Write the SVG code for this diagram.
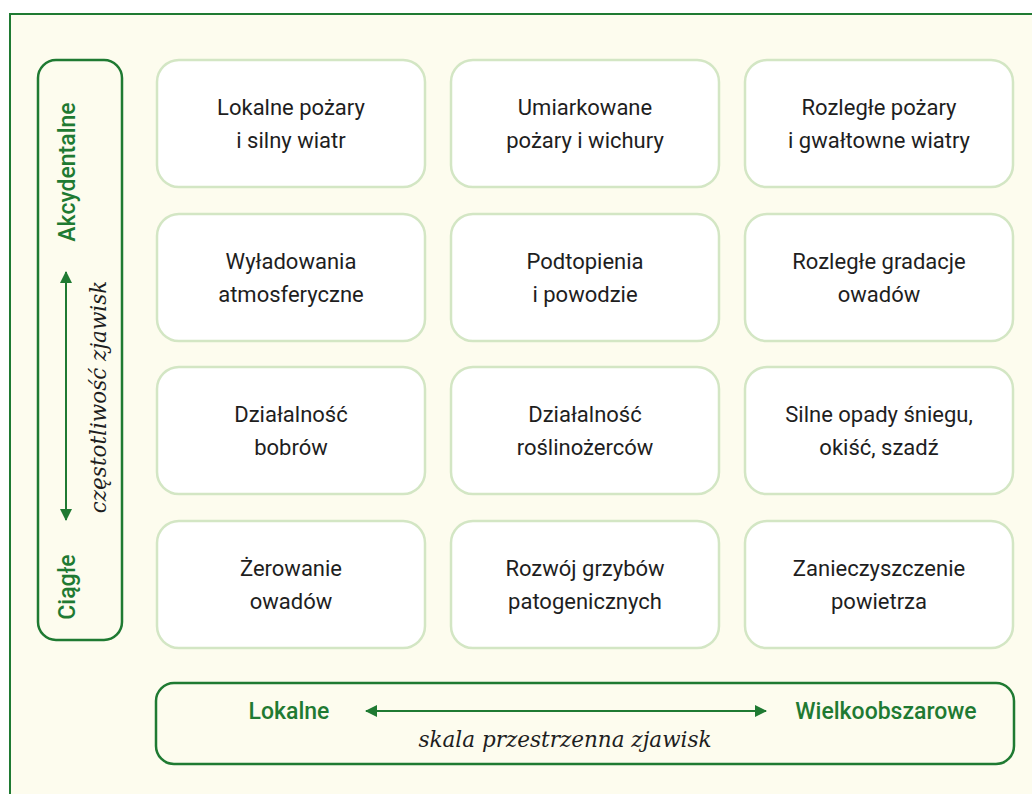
<svg xmlns="http://www.w3.org/2000/svg" width="1032" height="794" viewBox="0 0 1032 794">
<defs>
<style>
.box{fill:#ffffff;stroke:#d3e6c4;stroke-width:2.5}
.frame{fill:none;stroke:#1f7a32;stroke-width:2.5}
.t{font-family:Roboto,"Liberation Sans",sans-serif;font-size:22px;fill:#1e1e1e;text-anchor:middle}
.g{font-family:Roboto,"Liberation Sans",sans-serif;font-size:23px;font-weight:500;fill:#1f7a32;text-anchor:middle}
.i{font-family:"DejaVu Serif","Liberation Serif",serif;font-style:italic;font-size:21.5px;fill:#1e1e1e;text-anchor:middle}
.ln{stroke:#1f7a32;stroke-width:2;fill:none}
</style>
<marker id="ah" viewBox="0 0 12 12" refX="11" refY="6" markerWidth="12" markerHeight="12" markerUnits="userSpaceOnUse" orient="auto-start-reverse">
<path d="M0,0 L12,6 L0,12 Z" fill="#1f7a32"/>
</marker>
</defs>
<rect x="0" y="0" width="1032" height="794" fill="#ffffff"/>
<rect id="background" x="10" y="14" width="1040" height="800" fill="#fdfcee" stroke="#1f7a32" stroke-width="2"/>

<g id="axis-vertical">
<rect class="frame" x="38" y="60" width="84" height="580" rx="18"/>
<text class="g" transform="translate(75,172) rotate(-90)">Akcydentalne</text>
<text class="g" transform="translate(75,587) rotate(-90)">Ciągłe</text>
<text class="i" transform="translate(106,397) rotate(-90)">częstotliwość zjawisk</text>
</g>
<g id="axis-horizontal">
<rect class="frame" x="156" y="683" width="858" height="81" rx="18"/>
<text class="g" x="289" y="719">Lokalne</text>
<text class="g" x="886" y="719">Wielkoobszarowe</text>
<text class="i" x="565" y="747">skala przestrzenna zjawisk</text>
</g>

<g id="connectors">
<line class="ln" x1="66" y1="272" x2="66" y2="520" marker-start="url(#ah)" marker-end="url(#ah)"/>
<line class="ln" x1="366" y1="711" x2="766" y2="711" marker-start="url(#ah)" marker-end="url(#ah)"/>
</g>

<g id="n1"><rect class="box" x="157" y="60" width="268" height="127" rx="22"/><text class="t" x="291" y="115">Lokalne pożary</text><text class="t" x="291" y="148">i silny wiatr</text></g>
<g id="n2"><rect class="box" x="451" y="60" width="268" height="127" rx="22"/><text class="t" x="585" y="115">Umiarkowane</text><text class="t" x="585" y="148">pożary i wichury</text></g>
<g id="n3"><rect class="box" x="745" y="60" width="268" height="127" rx="22"/><text class="t" x="879" y="115">Rozległe pożary</text><text class="t" x="879" y="148">i gwałtowne wiatry</text></g>

<g id="n4"><rect class="box" x="157" y="214" width="268" height="127" rx="22"/><text class="t" x="291" y="269">Wyładowania</text><text class="t" x="291" y="302">atmosferyczne</text></g>
<g id="n5"><rect class="box" x="451" y="214" width="268" height="127" rx="22"/><text class="t" x="585" y="269">Podtopienia</text><text class="t" x="585" y="302">i powodzie</text></g>
<g id="n6"><rect class="box" x="745" y="214" width="268" height="127" rx="22"/><text class="t" x="879" y="269">Rozległe gradacje</text><text class="t" x="879" y="302">owadów</text></g>

<g id="n7"><rect class="box" x="157" y="367" width="268" height="127" rx="22"/><text class="t" x="291" y="422">Działalność</text><text class="t" x="291" y="455">bobrów</text></g>
<g id="n8"><rect class="box" x="451" y="367" width="268" height="127" rx="22"/><text class="t" x="585" y="422">Działalność</text><text class="t" x="585" y="455">roślinożerców</text></g>
<g id="n9"><rect class="box" x="745" y="367" width="268" height="127" rx="22"/><text class="t" x="879" y="422">Silne opady śniegu,</text><text class="t" x="879" y="455">okiść, szadź</text></g>

<g id="n10"><rect class="box" x="157" y="521" width="268" height="127" rx="22"/><text class="t" x="291" y="576">Żerowanie</text><text class="t" x="291" y="609">owadów</text></g>
<g id="n11"><rect class="box" x="451" y="521" width="268" height="127" rx="22"/><text class="t" x="585" y="576">Rozwój grzybów</text><text class="t" x="585" y="609">patogenicznych</text></g>
<g id="n12"><rect class="box" x="745" y="521" width="268" height="127" rx="22"/><text class="t" x="879" y="576">Zanieczyszczenie</text><text class="t" x="879" y="609">powietrza</text></g>
</svg>
